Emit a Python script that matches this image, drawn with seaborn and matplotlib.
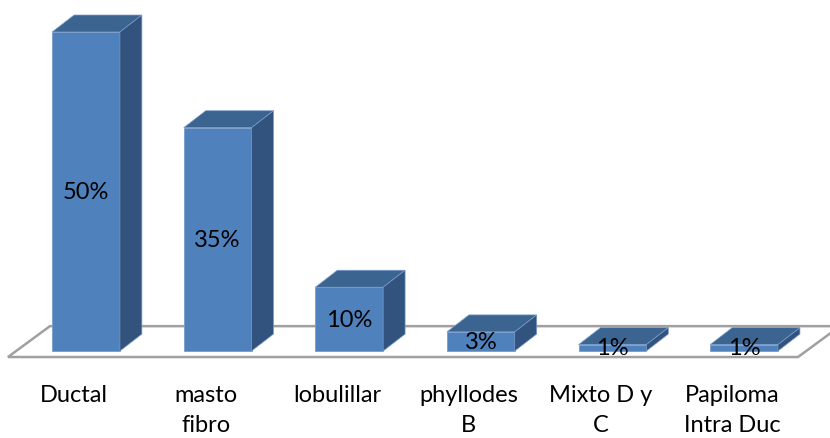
import matplotlib
matplotlib.use("Agg")
import matplotlib.pyplot as plt
import matplotlib.transforms as mtransforms
from matplotlib.patches import Polygon
import seaborn as sns
import pandas as pd

categories = ["Ductal", "masto\nfibro", "lobulillar", "phyllodes\nB", "Mixto D y\nC", "Papiloma\nIntra Duc"]
values = [50, 35, 10, 3, 1, 1]

FRONT = "#4F81BD"
TOP = "#3C6491"
SIDE = "#32537D"
EDGE = "#7A9CCB"

sns.set_theme(style="white")
plt.rcParams["font.family"] = ["Lato", "DejaVu Sans"]

fig = plt.figure(figsize=(8.30, 4.39), dpi=100)
ax = fig.add_axes([0, 64 / 439, 1, 375 / 439])

df = pd.DataFrame({"tipo": categories, "pct": values})
sns.barplot(data=df, x="tipo", y="pct", width=0.515, color=FRONT, saturation=1,
            edgecolor=EDGE, linewidth=0.6, ax=ax, zorder=3)

ax.set_xlim(-0.6535, 5.653)
ax.set_ylim(-3.6, 55.17)

# oblique depth of the pseudo-3D boxes, in data units
dx, dy = 0.167, 2.66

# floor of the chart, drawn as an outlined parallelogram
fx0, fx1, fy0 = -0.593, 5.41, -0.94
fdx, fdy = 0.319, 4.84
floor = Polygon([(fx0, fy0), (fx1, fy0), (fx1 + fdx, fy0 + fdy), (fx0 + fdx, fy0 + fdy)],
                closed=True, facecolor="white", edgecolor="#A0A0A0", linewidth=1.8, zorder=1)
ax.add_patch(floor)

for bar in ax.patches[:len(values)]:
    x0 = bar.get_x()
    w = bar.get_width()
    h = bar.get_height()
    x1 = x0 + w
    top = Polygon([(x0, h), (x1, h), (x1 + dx, h + dy), (x0 + dx, h + dy)],
                  closed=True, facecolor=TOP, edgecolor=EDGE, linewidth=0.5, zorder=3)
    side = Polygon([(x1, 0), (x1 + dx, dy), (x1 + dx, h + dy), (x1, h)],
                   closed=True, facecolor=SIDE, edgecolor=EDGE, linewidth=0.5, zorder=3)
    ax.add_patch(top)
    ax.add_patch(side)

ax.bar_label(ax.containers[0], labels=[f"{v}%" for v in values], label_type="center",
             fontsize=17, color="black", zorder=5)

ax.set_xlabel("")
ax.set_ylabel("")
ax.set_yticks([])
ax.tick_params(axis="x", length=0, pad=7, labelsize=17, labelcolor="black")
shift = mtransforms.ScaledTranslation(-12 / 100, 0, fig.dpi_scale_trans)
for lbl in ax.get_xticklabels():
    lbl.set_transform(lbl.get_transform() + shift)
    lbl.set_linespacing(1.55)
for s in ax.spines.values():
    s.set_visible(False)

fig.savefig("out.png", dpi=100)
